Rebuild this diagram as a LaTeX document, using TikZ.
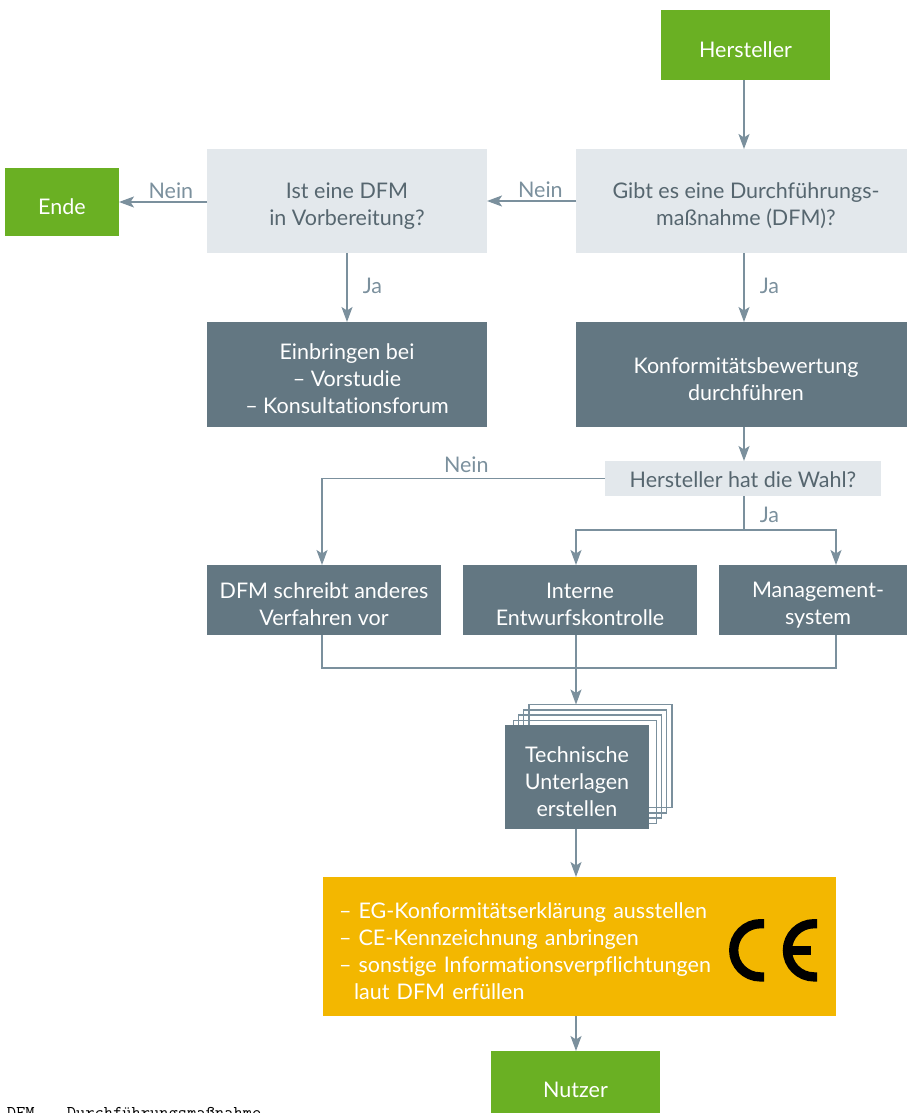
\documentclass[tikz,border=0pt]{standalone}
\usepackage{fontspec}
\setmainfont[Ligatures=NoCommon]{Lato}
\usetikzlibrary{shapes, arrows.meta, positioning}
\definecolor{herstgreen}{HTML}{6AB023}
\definecolor{paleblue}{HTML}{E3E8EC}
\definecolor{slate}{HTML}{637782}
\definecolor{amber}{HTML}{F3B700}
\definecolor{wire}{HTML}{7B909D}
\definecolor{asktext}{HTML}{56666F}
\tikzset{textdrop/.style={execute at begin node={\rule{0pt}{#1}}}}
\tikzstyle{block} = [rectangle, align=center, inner sep=0pt, outer sep=0pt, font=\fontsize{21.5}{27}\selectfont]
\tikzstyle{greenbox} = [block, fill=herstgreen, text=white]
\tikzstyle{askbox} = [block, fill=paleblue, text=asktext]
\tikzstyle{darkbox} = [block, fill=slate, text=white]
\tikzstyle{sheet} = [draw=wire, line width=1.4pt, outer sep=0pt, minimum width=143pt, minimum height=103pt]
\tikzstyle{wirelabel} = [text=wire, inner sep=1pt, font=\fontsize{21.5}{27}\selectfont]
\newcommand{\foottext}[1]{\fontsize{18}{18}\selectfont\ttfamily #1}
\newcommand{\topdrop}{\rule{0pt}{25pt}}

\begin{document}
\begin{tikzpicture}[x=1pt, y=1pt, >={Stealth[length=15pt, width=11pt, inset=3.5pt]}, line width=1.5pt]
  \useasboundingbox (0,0) rectangle (907,-1113);
  \coordinate (colmain) at (744,0);
  \coordinate (colleft) at (322,0);
  \coordinate (colmid) at (576,0);
  \coordinate (colright) at (836,0);
  \coordinate (jawahl) at (744,-530);
  \coordinate (merge) at (576,-668);

  \node[greenbox, textdrop=26pt, minimum width=169pt, minimum height=70pt] (hersteller) at (745.5,-45) {Hersteller};
  \node[askbox, minimum width=331pt, minimum height=104pt] (gibt) at (741.5,-201) {\topdrop\hspace*{9pt}Gibt es eine Durchführungs-\\\hspace*{9pt}maßnahme (DFM)?};
  \node[askbox, minimum width=280pt, minimum height=104pt, left of=gibt, node distance=394.5pt] (ist) {\topdrop Ist eine DFM\\in Vorbereitung?};
  \node[greenbox, textdrop=26pt, minimum width=114pt, minimum height=68pt] (ende) at (62,-202) {Ende};
  \node[darkbox, minimum width=280pt, minimum height=105pt, below of=ist, node distance=173.5pt] (einbringen) {\topdrop Einbringen bei\\– Vorstudie\\– Konsultationsforum};
  \node[darkbox, minimum width=331pt, minimum height=105pt, below of=gibt, node distance=173.5pt] (konform) {\topdrop\hspace*{9pt}Konformitätsbewertung\\\hspace*{9pt}durchführen};
  \node[askbox, textdrop=18pt, minimum width=276pt, minimum height=35pt] (wahl) at (743,-478.5) {Hersteller hat die Wahl?};
  \node[darkbox, minimum width=234pt, minimum height=70pt] (anderes) at (324,-600) {\topdrop DFM schreibt anderes\\Verfahren vor};
  \node[darkbox, minimum width=234pt, minimum height=70pt, right of=anderes, node distance=256pt] (interne) {\topdrop Interne\\Entwurfskontrolle};
  \node[darkbox, minimum width=188pt, minimum height=70pt, right of=interne, node distance=233pt] (mgmt) {\topdrop\hspace*{10pt}Management-\\\hspace*{10pt}system};
  \foreach \i/\cx/\cy in {3/600.3/-756, 2/595/-761.5, 1/590/-766.5, 0/584.7/-772} {
    \node[sheet] (sheet\i) at (\cx,\cy) {};
  }
  \node[darkbox, minimum width=144pt, minimum height=104pt] (unterlagen) at (577,-777) {\topdrop Technische\\Unterlagen\\erstellen};
  \node[block, textdrop=25pt, fill=amber, text=white, align=left, text width=481pt, inner xsep=16pt, minimum height=139pt] (pflichten) at (579.5,-946.5) {– EG-Konformitätserklärung ausstellen\\– CE-Kennzeichnung anbringen\\– sonstige Informationsverpflichtungen\\\hspace*{15pt}laut DFM erfüllen};
  \node[greenbox, textdrop=32pt, minimum width=169pt, minimum height=62pt] (nutzer) at (575.5,-1082) {Nutzer};
  \node[anchor=base west, inner sep=0pt] (dfmkurz) at (6,-1118) {\foottext{DFM}};
  \node[anchor=base west, inner sep=0pt] (dfmlang) at (66,-1118) {\foottext{Durchführungsmaßnahme}};

  \draw[line width=9.3pt] (764,-923.7) -- (760.3,-923.7) arc (90:270:26.6) -- (764,-976.9);
  \draw[line width=9.3pt] (817,-923.7) -- (814,-923.7) arc (90:270:26.6) -- (817,-976.9);
  \draw[line width=9.3pt] (787.4,-950.3) -- (810.7,-950.3);

  \draw[draw=wire, ->] (colmain |- hersteller.south) -- (colmain |- gibt.north);
  \draw[draw=wire, ->] (gibt.west) -- node[wirelabel, above, pos=.4, yshift=2pt] {Nein} (ist.east);
  \draw[draw=wire, ->] (ist.west |- ende.east) -- node[wirelabel, above, pos=.41, yshift=2pt] {Nein} (ende.east);
  \draw[draw=wire, ->] (ist.south) -- node[wirelabel, right, xshift=14pt, yshift=2pt] {Ja} (einbringen.north);
  \draw[draw=wire, ->] (colmain |- gibt.south) -- node[wirelabel, right, xshift=14pt, yshift=2pt] {Ja} (colmain |- konform.north);
  \draw[draw=wire, ->] (colmain |- konform.south) -- (colmain |- wahl.north);
  \draw[draw=wire, ->] (wahl.west) -| node[wirelabel, above, pos=.245, yshift=4pt] {Nein} (colleft |- anderes.north);
  \draw[draw=wire, ->] (colmain |- wahl.south) -- node[wirelabel, right, xshift=14pt, yshift=-2pt] {Ja} (jawahl) -| (colmid |- interne.north);
  \draw[draw=wire, ->] (jawahl) -| (colright |- mgmt.north);
  \draw[draw=wire] (colleft |- anderes.south) |- (merge);
  \draw[draw=wire] (colright |- mgmt.south) |- (merge);
  \draw[draw=wire, ->] (colmid |- interne.south) -- (colmid |- sheet3.north);
  \draw[draw=wire, ->] (colmid |- unterlagen.south) -- (colmid |- pflichten.north);
  \draw[draw=wire, ->] (colmid |- pflichten.south) -- (colmid |- nutzer.north);
\end{tikzpicture}
\end{document}
